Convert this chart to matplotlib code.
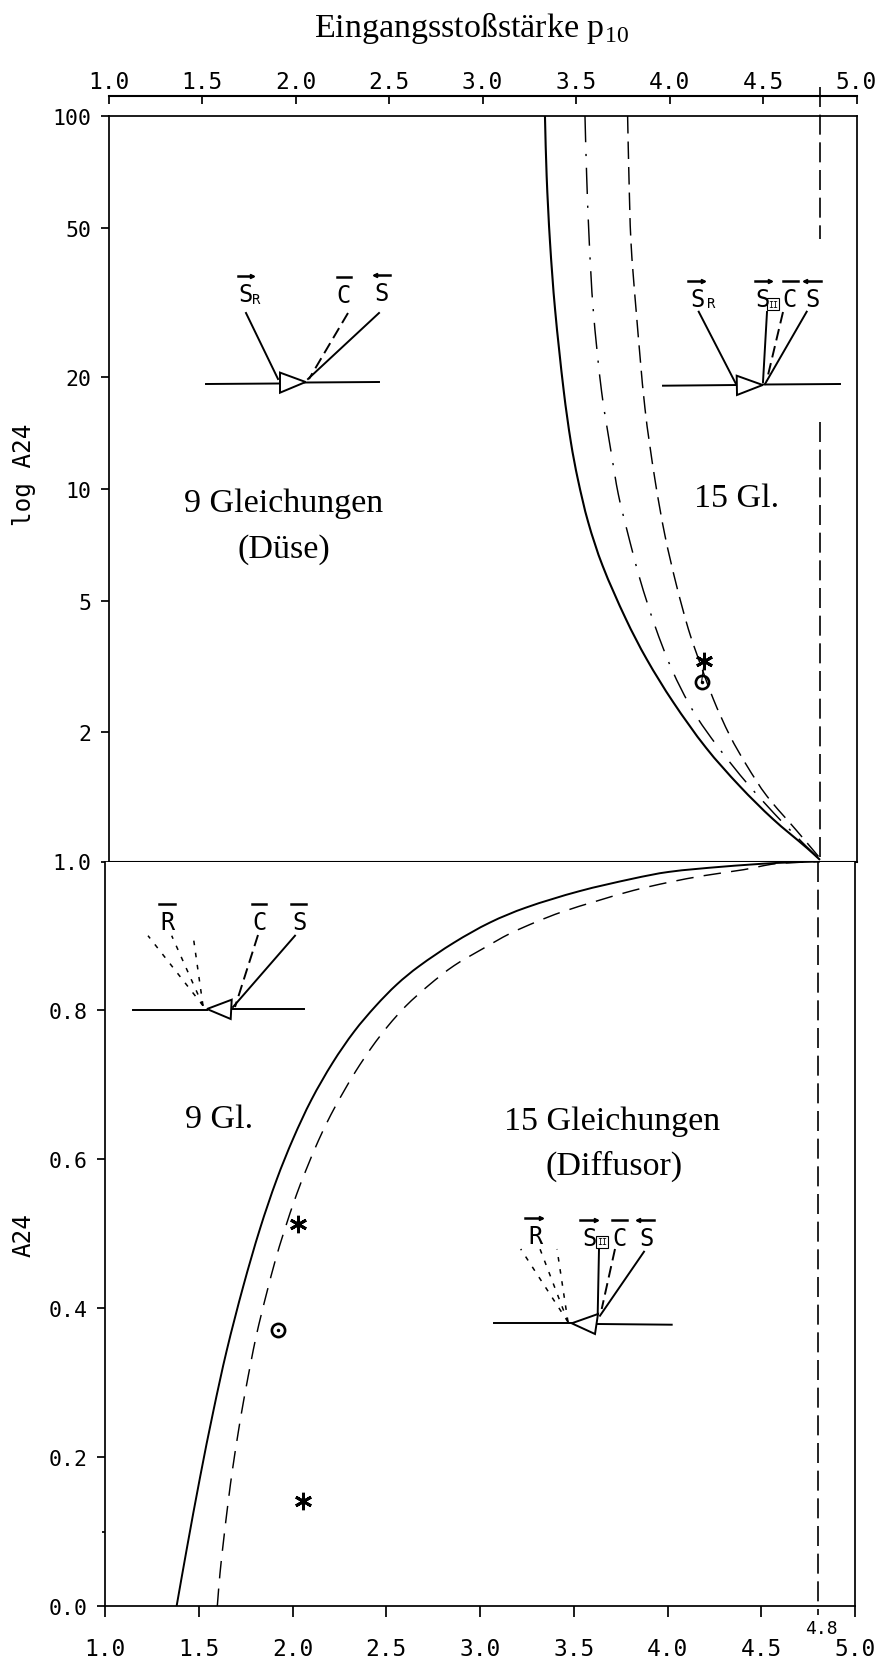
import matplotlib
matplotlib.use('Agg')
import numpy as np
import matplotlib.pyplot as plt
from matplotlib.path import Path
from matplotlib.patches import PathPatch
from matplotlib.ticker import NullLocator

plt.rcParams['font.family']='DejaVu Sans Mono'
plt.rcParams['mathtext.fontset']='custom'
plt.rcParams['mathtext.rm']='Liberation Serif'

W,H=883,1665

# upper panel (log A24)
up_solid_x=[3.334,3.343,3.361,3.388,3.435,3.473,3.510,3.565,3.642,3.767,3.878,4.019,4.195,4.377,4.553,4.735,4.805]
up_solid_y=[100,69.1,45.9,30.3,18.2,13.3,10.6,8.14,6.22,4.47,3.49,2.68,2.02,1.59,1.30,1.087,1.01]
up_dashdot_x=[3.548,3.557,3.571,3.592,3.637,3.691,3.726,3.771,3.842,3.922,4.012,4.127,4.259,4.420,4.607,4.805]
up_dashdot_y=[100,69.1,45.9,30.3,18.2,12.26,9.68,7.80,5.72,4.29,3.28,2.53,2.03,1.61,1.27,1.01]
up_dash_x=[3.776,3.783,3.794,3.821,3.869,3.922,3.976,4.038,4.101,4.146,4.234,4.324,4.413,4.520,4.680,4.805]
up_dash_y=[100,69.1,45.9,30.3,16.4,10.6,7.48,5.49,4.20,3.60,2.73,2.17,1.81,1.50,1.21,1.02]
up_star=[(4.186,3.44)]
up_circle=[(4.172,3.04)]

# lower panel (A24)
lo_solid_x=[1.382,1.436,1.507,1.578,1.649,1.738,1.827,1.916,2.004,2.101,2.215,2.330,2.444,2.557,2.673,2.861,3.053,3.244,3.528,3.816,4.006,4.291,4.577,4.813]
lo_solid_y=[0,.0766,.173,.262,.343,.430,.507,.573,.628,.680,.730,.772,.806,.835,.859,.891,.918,.938,.960,.977,.986,.993,.998,1.0]
lo_dash_x=[1.599,1.613,1.631,1.658,1.681,1.706,1.729,1.752,1.777,1.805,1.836,1.866,1.907,1.955,2.022,2.076,2.138,2.205,2.273,2.339,2.424,2.509,2.605,2.728,2.861,3.016,3.158,3.301,3.434,3.624,3.816,4.006,4.195,4.406,4.577,4.813]
lo_dash_y=[0,.043,.085,.142,.185,.226,.261,.293,.326,.361,.394,.424,.463,.503,.553,.588,.625,.660,.691,.719,.751,.779,.806,.834,.860,.883,.903,.919,.932,.947,.961,.972,.981,.989,.997,1.0]
lo_star=[(2.028,.513),(2.058,.141)]
lo_circle=[(1.924,.371)]

p_crit=4.805
crit_top=[(119.5,46.8),(15.1,1.0)]

x_ticks=[1.0,1.5,2.0,2.5,3.0,3.5,4.0,4.5,5.0]
x_labels=['1.0','1.5','2.0','2.5','3.0','3.5','4.0','4.5','5.0']
# the "2" tick really sits higher than a true log position in the original
up_ticks=[1,2.23,5,10,20,50,100]
up_labels=['1.0','2','5','10','20','50','100']
lo_ticks=[0,.2,.4,.6,.8]
lo_labels=['0.0','0.2','0.4','0.6','0.8']

LW=1.25
DASH=(0,(12,5.5))
DASHDOT=(0,(18,8,1.5,8))
CRIT=(0,(12,4.6))

def make_ax(l,t,r,b):
    return fig.add_axes([l/W,1-b/H,(r-l)/W,(b-t)/H])

def curve(ax,xs,ys,**kw):
    # bezier through the read values, so the line is not faceted
    p=ax.transData.transform(np.column_stack([xs,ys]))
    u=np.zeros_like(p)
    u[0]=p[1]-p[0]; u[-1]=p[-1]-p[-2]
    u[1:-1]=p[2:]-p[:-2]
    u=u/np.linalg.norm(u,axis=1)[:,None]
    h=np.linalg.norm(p[1:]-p[:-1],axis=1)[:,None]/3
    verts=np.zeros((3*len(h)+1,2))
    verts[::3]=p
    verts[1::3]=p[:-1]+u[:-1]*h
    verts[2::3]=p[1:]-u[1:]*h
    verts=ax.transData.inverted().transform(verts)
    codes=[Path.MOVETO]+[Path.CURVE4]*(len(verts)-1)
    ax.add_patch(PathPatch(Path(verts,codes),fc='none',ec='k',joinstyle='round',**kw))

def star(ax,pts):
    for x,y in pts:
        ax.plot(x,y,marker=(6,2,0),ms=12.5,mew=2.1,color='k',clip_on=False)

def circle(ax,pts):
    for x,y in pts:
        ax.plot(x,y,marker='o',ms=9.5,mew=1.9,mfc='none',mec='k')
        ax.plot(x,y,marker='o',ms=1.5,color='k')

fig=plt.figure(figsize=(W/100,H/100),dpi=100)

ax=make_ax(108.5,117,856.5,862.5)
ax.set_yscale('log')
ax.set_xlim(1,5)
ax.set_ylim(1,100)
curve(ax,up_solid_x,up_solid_y,lw=1.5)
curve(ax,up_dashdot_x,up_dashdot_y,lw=1.05,ls=DASHDOT)
curve(ax,up_dash_x,up_dash_y,lw=1.05,ls=DASH)
for y0,y1 in crit_top:
    ax.plot([p_crit,p_crit],[y0,y1],'k',lw=1.2,ls=CRIT,clip_on=False)
star(ax,up_star)
circle(ax,up_circle)
ax.plot([up_star[0][0],up_circle[0][0]],[up_star[0][1],up_circle[0][1]],'k',lw=.8)
ax.set_yticks(up_ticks)
ax.set_yticklabels(up_labels,fontsize=15.5)
ax.yaxis.set_minor_locator(NullLocator())
ax.tick_params(axis='y',length=5.5,width=LW,pad=7)
ax.set_xticks([])
ax.spines['bottom'].set_linewidth(1.5)
for s in ['left','right','top']:
    ax.spines[s].set_linewidth(LW)

top=ax.secondary_xaxis(1+20/745.5)
top.set_xticks(x_ticks)
top.set_xticklabels(x_labels,fontsize=16.5)
top.tick_params(axis='x',direction='in',length=5.8,width=LW,pad=2.5)
top.spines['top'].set_linewidth(1.5)

ax2=make_ax(105,862.5,855,1607)
ax2.set_xlim(1,5)
ax2.set_ylim(0,1)
curve(ax2,lo_solid_x,lo_solid_y,lw=1.4)
curve(ax2,lo_dash_x,lo_dash_y,lw=1.05,ls=(0,(12,7)))
ax2.plot([p_crit,p_crit],[1,-.012],'k',lw=1.2,ls=CRIT,clip_on=False)
star(ax2,lo_star)
circle(ax2,lo_circle)
ax2.set_yticks(lo_ticks)
ax2.set_yticklabels(lo_labels,fontsize=15.5)
ax2.set_yticks([.1],minor=True)
ax2.tick_params(axis='y',length=5.5,width=LW,pad=7)
ax2.tick_params(axis='y',which='minor',length=2,width=LW)
ax2.set_xticks(x_ticks)
ax2.set_xticklabels(x_labels,fontsize=16.5)
ax2.tick_params(axis='x',length=8,width=LW,pad=14)
ax2.spines['top'].set_visible(False)
for s in ['left','right','bottom']:
    ax2.spines[s].set_linewidth(LW)

# overlay in picture pixels for the texts and the little vector sketches
ov=fig.add_axes([0,0,1,1])
ov.set_xlim(0,W)
ov.set_ylim(H,0)
ov.axis('off')
ov.patch.set_alpha(0)

def serif(x,y,s,size=24.5):
    ov.text(x,y,s,family='Liberation Serif',fontsize=size,ha='center',va='center')

def seg(p,q,ls='-',lw=1.4):
    ov.plot([p[0],q[0]],[p[1],q[1]],'k',lw=lw,ls=ls)

def letter(x,y,s,x0,x1,head=None,size=17):
    ov.text(x,y,s,fontsize=size,ha='center',va='center')
    ov.plot([x0,x1],[y-18,y-18],'k',lw=1.8)
    if head:
        ov.plot(x1 if head=='>' else x0,y-18,marker=head,ms=3,color='k')

def box2(x,y):
    ov.text(x,y,'II',fontsize=6,ha='center',va='center',
            bbox=dict(boxstyle='square,pad=0.15',fc='none',ec='k',lw=.8))

def tri(a,b,c):
    ov.fill([a[0],b[0],c[0]],[a[1],b[1],c[1]],fc='white',ec='k',lw=1.4,zorder=3)

serif(471,28,r'Eingangsstoßstärke p$_{\mathrm{10}}$',24.5)
serif(284,504,'9 Gleichungen')
serif(284,550,'(Düse)')
serif(737,499,'15 Gl.')
serif(219,1120,'9 Gl.')
serif(612,1122,'15 Gleichungen')
serif(614,1166,'(Diffusor)')
ov.text(24,475,'log A24',fontsize=17.5,rotation=90,ha='center',va='center')
ov.text(24,1235,'A24',fontsize=17.5,rotation=90,ha='center',va='center')
ov.text(821,1629,'4.8',fontsize=13,ha='center',va='center')

# nozzle, 9 equations
seg((206,385),(280,384.5)); seg((305,383.5),(379,383))
tri((280,373.6),(280,393.7),(305.6,383))
letter(245,295,'S',238,252,'>')
ov.text(256,300,'R',fontsize=10,ha='center',va='center')
seg((246,314),(278,380))
letter(344,296,'C',337,351)
seg((348,314),(309,380),ls=(0,(6,3)))
letter(382,294,'S',375,390,'<')
seg((379,314),(308,380))

# nozzle, 15 equations
seg((663,386.7),(737,386)); seg((763,385.5),(840,385))
tri((736.7,376.7),(737,396),(762.7,386))
letter(697,300,'S',688,703,'>')
ov.text(711,304,'R',fontsize=10,ha='center',va='center')
seg((698.7,312.7),(736,385))
letter(762.7,300,'S',755,770,'>')
box2(773,305)
seg((767,313),(763,383))
letter(790,300,'C',783,798)
seg((783,313),(766.7,381.7),ls=(0,(6,3)))
letter(812.7,300,'S',805,821,'<')
seg((806.7,312.7),(765,385))

# diffusor, 9 equations
seg((133,1010.7),(207,1010.7)); seg((233,1010),(304,1010))
tri((207,1010),(231.7,1000.7),(230.7,1020))
for tip in [(148,936.7),(171.7,936.7),(193,936)]:
    seg((203,1006.7),tip,ls=(0,(3,5)),lw=1.1)
letter(168,922.7,'R',159,175)
letter(259,922.7,'C',252,266)
seg((258,936),(235,1008),ls=(0,(6,3)))
letter(299,923,'S',291,306)
seg((295,936.7),(233,1008))

# diffusor, 15 equations
seg((494,1324),(571.7,1324)); seg((598,1325),(671.7,1325.7))
tri((571.7,1324.3),(598,1315),(595,1335))
for tip in [(520.7,1250),(540,1250),(557,1250)]:
    seg((568,1323),tip,ls=(0,(3,5)),lw=1.1)
letter(535.7,1237,'R',525,540.7,'>')
letter(590,1239,'S',580,596,'>')
box2(602,1243)
seg((599,1250),(597.7,1315))
letter(619,1239,'C',612,627)
seg((615,1250),(601.7,1310),ls=(0,(6,3)))
letter(646.7,1239,'S',638,654,'<')
seg((644,1252.7),(600,1316.7))

fig.savefig('out.png',dpi=100)
